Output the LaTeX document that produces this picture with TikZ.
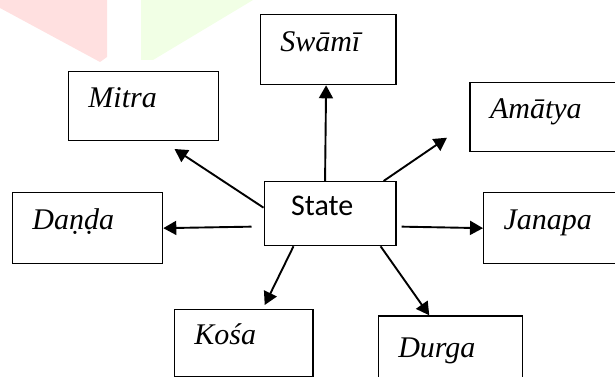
\documentclass[tikz,border=0pt]{standalone}
\usepackage{fontspec}
\setmainfont{Liberation Serif}
\newfontfamily\statefont{Carlito}
\usetikzlibrary{arrows.meta}

\begin{document}
\begin{tikzpicture}[x=1pt,y=-1pt]

      \tikzset{part/.style={draw, line width=1.3pt, anchor=north west, inner xsep=20pt, inner ysep=0pt, align=left, text height=.55em, text depth=.25em, font=\fontsize{30}{32}\selectfont\itshape}}
      \tikzset{link/.style={line width=1.9pt, -{Triangle[length=13pt,width=14pt]}}}
      \useasboundingbox (0,0) rectangle (615,377);
      \clip (0,0) rectangle (615,377);
%% Background
      	\fill[red!12] (0,0) -- (107,0) -- (107,57) -- (100,62) -- (0,8) -- cycle;
      	\fill[green!40!lime!10] (141,0) -- (253,0) -- (153,60) -- (141,60) -- cycle;
%% Boxes
      	\node[part, text width=95.7pt, minimum height=70pt] (swami) at (259.6,14) {Swāmī};
      	\node[part, text width=109.8pt, minimum height=69pt] (mitra) at (67.8,70.7) {Mitra};
    	\node[part, text width=130pt, minimum height=69.3pt] (amatya) at (469.4,81.7) {Amātya};
  	    \node[part, text width=110.2pt, minimum height=71pt] (danda) at (11.8,192) {Daṇḍa};
  	    \node[part, inner xsep=27pt, text width=77.8pt, minimum height=64pt, font=\fontsize{30}{32}\selectfont\statefont] (state) at (263.5,181) {State};
  	    \node[part, text width=130pt, minimum height=71pt] (janapa) at (483,192) {Janapa};
  	    \node[part, text width=98.5pt, minimum height=67pt] (kosa) at (173.7,309) {Kośa};
  	    \node[part, text width=104pt, minimum height=80pt] (durga) at (377.6,315.3) {Durga};
%Arrow ends
		\coordinate (mitratip) at (174.5,149);
		\coordinate (amatyatip) at (447,137.7);
		\coordinate (kosatip) at (264.7,305);
%Arrows
		\path[link] ([xshift=-5pt]state.north) edge ([xshift=-2pt]swami.south);
		\path[link] ([yshift=6pt]state.west) edge (mitratip);
		\path[link] ([xshift=-13pt]state.north east) edge (amatyatip);
		\path[link] ([xshift=-12pt,yshift=-13pt]state.west) edge (danda.east);
		\path[link] ([xshift=5pt,yshift=-13pt]state.east) edge (janapa.west);
		\path[link] ([xshift=30pt]state.south west) edge (kosatip);
		\path[link] ([xshift=-16pt]state.south east) edge ([xshift=-21pt]durga.north);

	\end{tikzpicture}
\end{document}
